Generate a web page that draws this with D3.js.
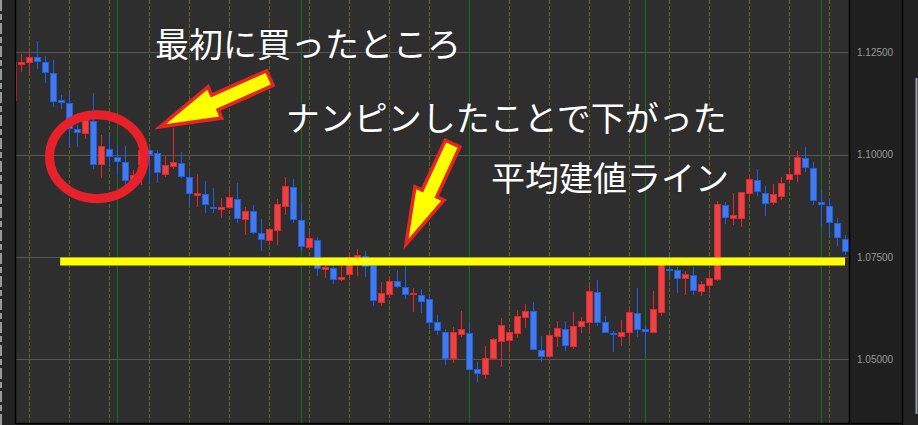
<!DOCTYPE html>
<meta charset="utf-8">
<style>
body { margin: 0; background: #1f1f1f; }
svg { display: block; }
.axis text { font: 10px "Liberation Sans", Arial, sans-serif; fill: #9a9a9a; }
.note {
  font-family: "Noto Sans CJK JP", sans-serif;
  font-size: 34px;
  fill: #fff;
  stroke: #2a2a2a;
  stroke-width: 1.5px;
  paint-order: stroke;
}
</style>
<svg width="918" height="425" id="chart"></svg>
<script src="https://d3js.org/d3.v7.min.js"></script>
<script>

// OHLC per candle, index 0 is the one cut off by the left edge
var opens = [1.1133,1.1219,1.1226,1.1238,1.1226,1.1197,1.1132,1.1125,1.1062,1.1052,
  1.1082,1.0976,1.1013,1.0993,1.0981,1.0936,1.0977,1.1009,1.1003,1.0952,
  1.0971,1.0979,1.0945,1.0899,1.0903,1.0872,1.0866,1.0871,1.0891,1.0842,
  1.0861,1.0808,1.0790,1.0814,1.0873,1.0920,1.0840,1.0773,1.0791,1.0719,
  1.0722,1.0695,1.0706,1.0733,1.0752,1.0728,1.0639,1.0658,1.0691,1.0676,
  1.0658,1.0657,1.0646,1.0590,1.0566,1.0501,1.0561,1.0563,1.0475,1.0463,
  1.0502,1.0544,1.0546,1.0563,1.0602,1.0617,1.0521,1.0508,1.0555,1.0573,
  1.0531,1.0579,1.0591,1.0663,1.0590,1.0564,1.0555,1.0565,1.0612,1.0573,
  1.0565,1.0614,1.0720,1.0716,1.0698,1.0705,1.0665,1.0680,1.0695,1.0876,
  1.0844,1.0844,1.0905,1.0938,1.0905,1.0883,1.0897,1.0940,1.0952,1.0991,
  1.0966,1.0883,1.0874,1.0832,1.0793];
var highs = [1.1229,1.1246,1.1253,1.1278,1.1242,1.1231,1.1146,1.1148,1.1072,1.1097,
  1.1151,1.1048,1.1047,1.1021,1.1021,1.0962,1.1016,1.1016,1.1011,1.0997,
  1.1065,1.1006,1.0960,1.0953,1.0936,1.0919,1.0893,1.0913,1.0930,1.0871,
  1.0876,1.0842,1.0818,1.0891,1.0945,1.0940,1.0882,1.0811,1.0799,1.0749,
  1.0735,1.0733,1.0759,1.0769,1.0764,1.0747,1.0688,1.0701,1.0718,1.0733,
  1.0673,1.0671,1.0654,1.0608,1.0573,1.0579,1.0618,1.0592,1.0493,1.0532,
  1.0551,1.0600,1.0574,1.0620,1.0635,1.0639,1.0558,1.0563,1.0593,1.0593,
  1.0615,1.0604,1.0680,1.0694,1.0606,1.0569,1.0596,1.0628,1.0675,1.0581,
  1.0667,1.0747,1.0757,1.0726,1.0716,1.0725,1.0691,1.0710,1.0886,1.0884,
  1.0907,1.0909,1.0953,1.0964,1.0923,1.0928,1.0945,1.0965,1.1008,1.1018,
  1.0983,1.0913,1.0894,1.0846,1.0803];
var lows = [1.1129,1.1202,1.1200,1.1208,1.1174,1.1117,1.1111,1.1021,1.1019,1.1037,
  1.0964,1.0942,1.0970,1.0950,1.0926,1.0926,1.0926,1.0930,1.0930,1.0946,
  1.0966,1.0942,1.0873,1.0873,1.0857,1.0857,1.0844,1.0866,1.0832,1.0803,
  1.0805,1.0765,1.0780,1.0779,1.0852,1.0833,1.0768,1.0767,1.0703,1.0698,
  1.0684,1.0692,1.0698,1.0703,1.0701,1.0630,1.0630,1.0649,1.0673,1.0648,
  1.0616,1.0614,1.0575,1.0559,1.0487,1.0490,1.0555,1.0474,1.0445,1.0451,
  1.0500,1.0482,1.0517,1.0552,1.0577,1.0522,1.0494,1.0502,1.0531,1.0520,
  1.0524,1.0564,1.0566,1.0581,1.0564,1.0518,1.0532,1.0542,1.0555,1.0514,
  1.0564,1.0605,1.0701,1.0662,1.0657,1.0657,1.0654,1.0662,1.0692,1.0831,
  1.0829,1.0824,1.0895,1.0900,1.0850,1.0877,1.0890,1.0931,1.0934,1.0958,
  1.0877,1.0825,1.0800,1.0777,1.0756];
var closes = [1.1226,1.1226,1.1238,1.1228,1.1200,1.1130,1.1128,1.1065,1.1055,1.1083,
  1.0976,1.1019,1.0995,1.0984,1.0936,1.0950,1.1009,1.1001,1.0956,1.0974,
  1.0981,1.0946,1.0905,1.0904,1.0879,1.0868,1.0871,1.0896,1.0844,1.0861,
  1.0810,1.0793,1.0817,1.0879,1.0923,1.0841,1.0775,1.0796,1.0722,1.0725,
  1.0695,1.0700,1.0749,1.0754,1.0726,1.0643,1.0661,1.0691,1.0677,1.0658,
  1.0661,1.0640,1.0590,1.0570,1.0501,1.0566,1.0573,1.0475,1.0465,1.0502,
  1.0549,1.0583,1.0566,1.0605,1.0617,1.0525,1.0506,1.0558,1.0575,1.0534,
  1.0581,1.0593,1.0665,1.0589,1.0565,1.0560,1.0566,1.0615,1.0573,1.0568,
  1.0622,1.0737,1.0716,1.0698,1.0708,1.0668,1.0683,1.0698,1.0879,1.0847,
  1.0852,1.0908,1.0940,1.0909,1.0881,1.0903,1.0930,1.0952,1.0993,1.0968,
  1.0887,1.0879,1.0834,1.0797,1.0763];

var priceTicks = [1.05, 1.075, 1.1, 1.125];
var dayBreaks = [13, 36, 57, 79, 101];   // solid green separators (candle index)
var avgPrice = 1.0739;                   // 平均建値
var avgFrom = 5.9;

// annotations in chart units: [candle index, price]
var notes = [
  { text: "最初に買ったところ", at: [17.75, 1.1239] },
  { text: "ナンピンしたことで下がった", at: [34.1, 1.1058] },
  { text: "平均建値ライン", at: [59.75, 1.0911] }
];
var arrows = [
  { from: [32.1, 1.1187], to: [18.375, 1.1068], shaft: 16, head: 34, len: 60 },
  { from: [54.94, 1.1027], to: [49.125, 1.0781], shaft: 16, head: 32, len: 56 }
];
var circleAt = [10.5, 1.0995];

var svg = d3.select("#chart"),
    width = +svg.attr("width"),
    height = +svg.attr("height");

var plot = { left: 16, right: 849, top: 0, bottom: 423 };

var x = d3.scaleLinear().domain([0, 104]).range([13, 845]);
var y = d3.scaleLinear().domain([1.05, 1.125]).range([359.3, 52.3]);

// backgrounds
svg.append("rect").attr("width", width).attr("height", height).attr("fill", "#1f1f1f");
svg.append("rect").attr("x", 0).attr("width", plot.left).attr("height", height).attr("fill", "#232323");
svg.append("line").attr("x1", 1).attr("x2", 1).attr("y1", 0).attr("y2", height)
  .attr("stroke", "#9a9a9a").attr("stroke-width", 2).attr("stroke-dasharray", "11,3,6,3");
svg.append("rect").attr("x", plot.left).attr("y", plot.top)
  .attr("width", plot.right - plot.left).attr("height", plot.bottom - plot.top)
  .attr("fill", "#2e2e2e");
svg.append("rect").attr("x", 902).attr("width", 16).attr("height", height).attr("fill", "#222");
svg.append("line").attr("x1", 916.5).attr("x2", 916.5).attr("y1", 78).attr("y2", 414)
  .attr("stroke", "#9c9caa").attr("stroke-width", 2);

svg.append("clipPath").attr("id", "clip")
  .append("rect").attr("x", plot.left).attr("y", plot.top)
  .attr("width", plot.right - plot.left).attr("height", plot.bottom - plot.top);

var g = svg.append("g").attr("clip-path", "url(#clip)").attr("shape-rendering", "crispEdges");

// grid
g.selectAll(".hgrid").data(priceTicks).enter().append("line")
  .attr("x1", plot.left).attr("x2", plot.right)
  .attr("y1", function(d) { return Math.round(y(d)) + 0.5; })
  .attr("y2", function(d) { return Math.round(y(d)) + 0.5; })
  .attr("stroke", "#575757");

g.selectAll(".vgrid").data(d3.range(2, 105, 5)).enter().append("line")
  .attr("x1", function(d) { return x(d) + 0.5; })
  .attr("x2", function(d) { return x(d) + 0.5; })
  .attr("y1", plot.top).attr("y2", plot.bottom)
  .attr("stroke", "#66661f").attr("stroke-dasharray", "4,2");

g.selectAll(".day").data(dayBreaks).enter().append("line")
  .attr("x1", function(d) { return x(d) + 0.5; })
  .attr("x2", function(d) { return x(d) + 0.5; })
  .attr("y1", plot.top).attr("y2", plot.bottom)
  .attr("stroke", "#17701a");

// candles
var candles = opens.map(function(o, i) {
  return { i: i, o: o, h: highs[i], l: lows[i], c: closes[i], up: closes[i] >= o };
});
function edge(d) { return d.up ? "#e3262b" : "#1f5fe0"; }
function fill(d) { return d.up ? "#e84444" : "#4479ea"; }

var cg = g.selectAll(".candle").data(candles).enter().append("g");
cg.append("line")
  .attr("x1", function(d) { return x(d.i) + 0.5; })
  .attr("x2", function(d) { return x(d.i) + 0.5; })
  .attr("y1", function(d) { return y(d.h); })
  .attr("y2", function(d) { return y(d.l); })
  .attr("stroke", edge);
cg.append("rect")
  .attr("x", function(d) { return x(d.i) - 2.5; })
  .attr("width", 6)
  .attr("y", function(d) { return y(Math.max(d.o, d.c)); })
  .attr("height", function(d) { return Math.max(1, Math.abs(y(d.o) - y(d.c))); })
  .attr("fill", fill)
  .attr("stroke", edge);

// borders
svg.append("line").attr("x1", plot.left - 0.5).attr("x2", plot.left - 0.5)
  .attr("y1", 0).attr("y2", plot.bottom + 1).attr("stroke", "#000").attr("stroke-width", 1.5);
svg.append("line").attr("x1", plot.left).attr("x2", 902)
  .attr("y1", plot.bottom + 0.5).attr("y2", plot.bottom + 0.5).attr("stroke", "#000").attr("stroke-width", 1.5);
svg.append("line").attr("x1", plot.right + 0.5).attr("x2", plot.right + 0.5)
  .attr("y1", 0).attr("y2", plot.bottom).attr("stroke", "#000").attr("stroke-width", 1.5);
svg.append("line").attr("x1", 902.5).attr("x2", 902.5)
  .attr("y1", 0).attr("y2", height).attr("stroke", "#000").attr("stroke-width", 1.5);

// price axis
svg.append("g").attr("class", "axis")
  .attr("transform", "translate(" + plot.right + ",0)")
  .call(d3.axisRight(y).tickValues(priceTicks).tickFormat(d3.format(".5f")).tickSize(0).tickPadding(8))
  .call(function(a) { a.select(".domain").remove(); });

// average price line
svg.append("line")
  .attr("x1", x(avgFrom)).attr("x2", x(104))
  .attr("y1", y(avgPrice)).attr("y2", y(avgPrice))
  .attr("stroke", "#ffff00").attr("stroke-width", 8);

// red ring round the first entries
svg.append("ellipse")
  .attr("cx", x(circleAt[0])).attr("cy", y(circleAt[1]))
  .attr("rx", 47.5).attr("ry", 42)
  .attr("fill", "none").attr("stroke", "#e8202a").attr("stroke-width", 9);

// arrows
function arrowPoints(a) {
  var x1 = x(a.from[0]), y1 = y(a.from[1]), x2 = x(a.to[0]), y2 = y(a.to[1]);
  var L = Math.hypot(x2 - x1, y2 - y1), ux = (x2 - x1) / L, uy = (y2 - y1) / L;
  var nx = -uy, ny = ux;
  var bx = x2 - ux * a.len, by = y2 - uy * a.len;
  var s = a.shaft / 2, h = a.head / 2;
  return [
    [x1 + nx * s, y1 + ny * s], [bx + nx * s, by + ny * s], [bx + nx * h, by + ny * h],
    [x2, y2],
    [bx - nx * h, by - ny * h], [bx - nx * s, by - ny * s], [x1 - nx * s, y1 - ny * s]
  ];
}
svg.selectAll(".arrow").data(arrows).enter().append("polygon")
  .attr("points", function(d) { return arrowPoints(d).map(function(p) { return p.join(","); }).join(" "); })
  .attr("fill", "#ffff00").attr("stroke", "#e5251f").attr("stroke-width", 3.5)
  .attr("stroke-linejoin", "miter");

// notes
svg.selectAll(".note").data(notes).enter().append("text")
  .attr("class", "note")
  .attr("x", function(d) { return x(d.at[0]); })
  .attr("y", function(d) { return y(d.at[1]); })
  .text(function(d) { return d.text; });

</script>
